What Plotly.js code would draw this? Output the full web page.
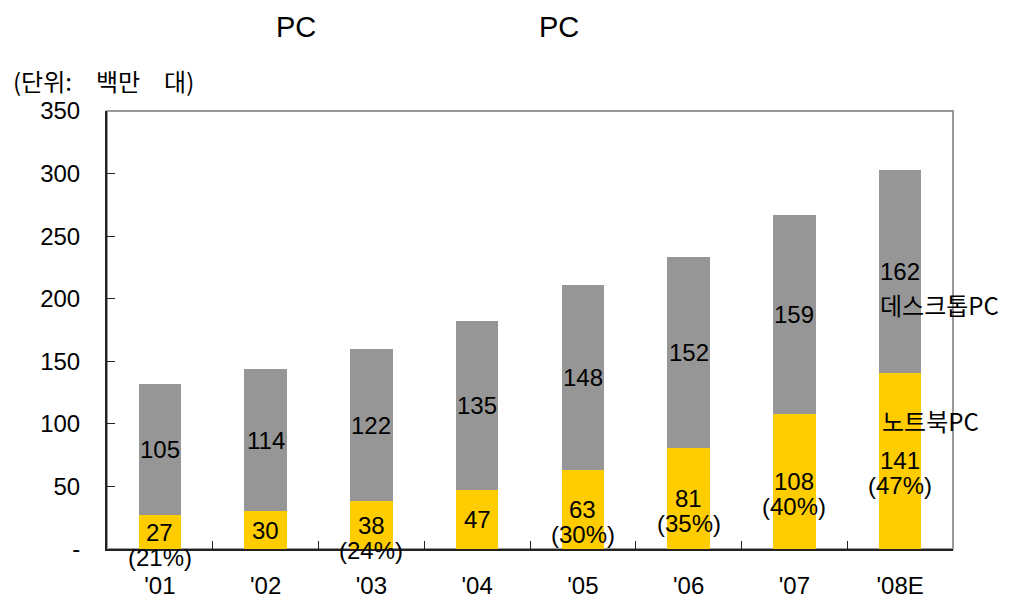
<!DOCTYPE html>
<html>
<head>
<meta charset="utf-8">
<script src="https://cdn.plot.ly/plotly-3.0.1.min.js"></script>
<style>html,body{margin:0;padding:0;background:#fff;}#chart{width:1021px;height:601px;}</style>
</head>
<body>
<div id="chart"></div>
<script>
const categories = ["'01", "'02", "'03", "'04", "'05", "'06", "'07", "'08E"];
const notebook = [27, 30, 38, 47, 63, 81, 108, 141];
const desktop = [105, 114, 122, 135, 148, 152, 159, 162];
const notebookShare = ["(21%)", "", "(24%)", "", "(30%)", "(35%)", "(40%)", "(47%)"];
const yTickVals = [0, 50, 100, 150, 200, 250, 300, 350];
const yTickText = ["-", "50", "100", "150", "200", "250", "300", "350"];

const sansFam = "Liberation Sans, Arial, sans-serif";
const numFont = {family: sansFam, size: 24, color: "#000"};
const krFont = {family: "Noto Sans CJK KR, sans-serif", size: 24, color: "#000"};

const traces = [
  {type: "bar", name: "노트북PC", x: categories, y: notebook, marker: {color: "#FFCC00"}, hoverinfo: "none"},
  {type: "bar", name: "데스크톱PC", x: categories, y: desktop, marker: {color: "#969696"}, hoverinfo: "none"}
];

const annotations = [];
categories.forEach((c, i) => {
  annotations.push({x: c, y: notebook[i] / 2, xref: "x", yref: "y", text: String(notebook[i]),
    showarrow: false, font: numFont, yanchor: "middle"});
  if (notebookShare[i]) {
    annotations.push({x: c, y: notebook[i] / 2, xref: "x", yref: "y", text: notebookShare[i],
      showarrow: false, font: numFont, yanchor: "middle", yshift: -25});
  }
  annotations.push({x: c, y: notebook[i] + desktop[i] / 2, xref: "x", yref: "y", text: String(desktop[i]),
    showarrow: false, font: numFont, yanchor: "middle"});
});
annotations.push({xref: "paper", yref: "paper", x: -0.114, y: 1 + (111 - 80) / 438, xanchor: "left", yanchor: "middle",
  text: "(단위:\u3000백만\u3000대)", showarrow: false, font: krFont});
annotations.push({x: "'08E", y: 195, xref: "x", yref: "y", xshift: -22, xanchor: "left", yanchor: "middle",
  text: "데스크톱PC", showarrow: false, font: krFont});
annotations.push({x: "'08E", y: 103, xref: "x", yref: "y", xshift: -20, xanchor: "left", yanchor: "middle",
  text: "노트북PC", showarrow: false, font: krFont});

const titleFont = {family: sansFam, size: 29, color: "#000"};
annotations.push({xref: "paper", yref: "paper", x: (274 - 107) / 846, y: 1 + (111 - 27) / 438,
  text: "PC", showarrow: false, font: titleFont, yanchor: "middle"});
annotations.push({xref: "paper", yref: "paper", x: (559 - 107) / 846, y: 1 + (111 - 27) / 438,
  text: "PC", showarrow: false, font: titleFont, yanchor: "middle"});

const layout = {
  width: 1021, height: 601,
  margin: {l: 107, r: 68, t: 111, b: 52},
  paper_bgcolor: "#fff", plot_bgcolor: "#fff",
  barmode: "stack", bargap: 0.6,
  showlegend: false,
  xaxis: {type: "category", range: [-0.5, 7.5], showline: true, linecolor: "#222", linewidth: 2,
    ticks: "inside", tickson: "boundaries", ticklen: 8, tickcolor: "#222",
    tickfont: {family: sansFam, size: 24, color: "#000"},
    ticklabelstandoff: 14, showgrid: false, zeroline: false},
  yaxis: {range: [0, 350], showline: true, linecolor: "#222", linewidth: 2,
    tickvals: yTickVals, ticktext: yTickText, ticks: "inside", ticklen: 8, tickcolor: "#222",
    tickfont: {family: sansFam, size: 24, color: "#000"},
    ticklabelstandoff: 20, showgrid: false, zeroline: false},
  shapes: [{type: "rect", xref: "paper", yref: "paper", x0: 0, x1: 1, y0: 0, y1: 1,
    line: {color: "#999", width: 2}, layer: "below"}],
  annotations: annotations
};

Plotly.newPlot("chart", traces, layout, {displayModeBar: false, staticPlot: true});
</script>
</body>
</html>
